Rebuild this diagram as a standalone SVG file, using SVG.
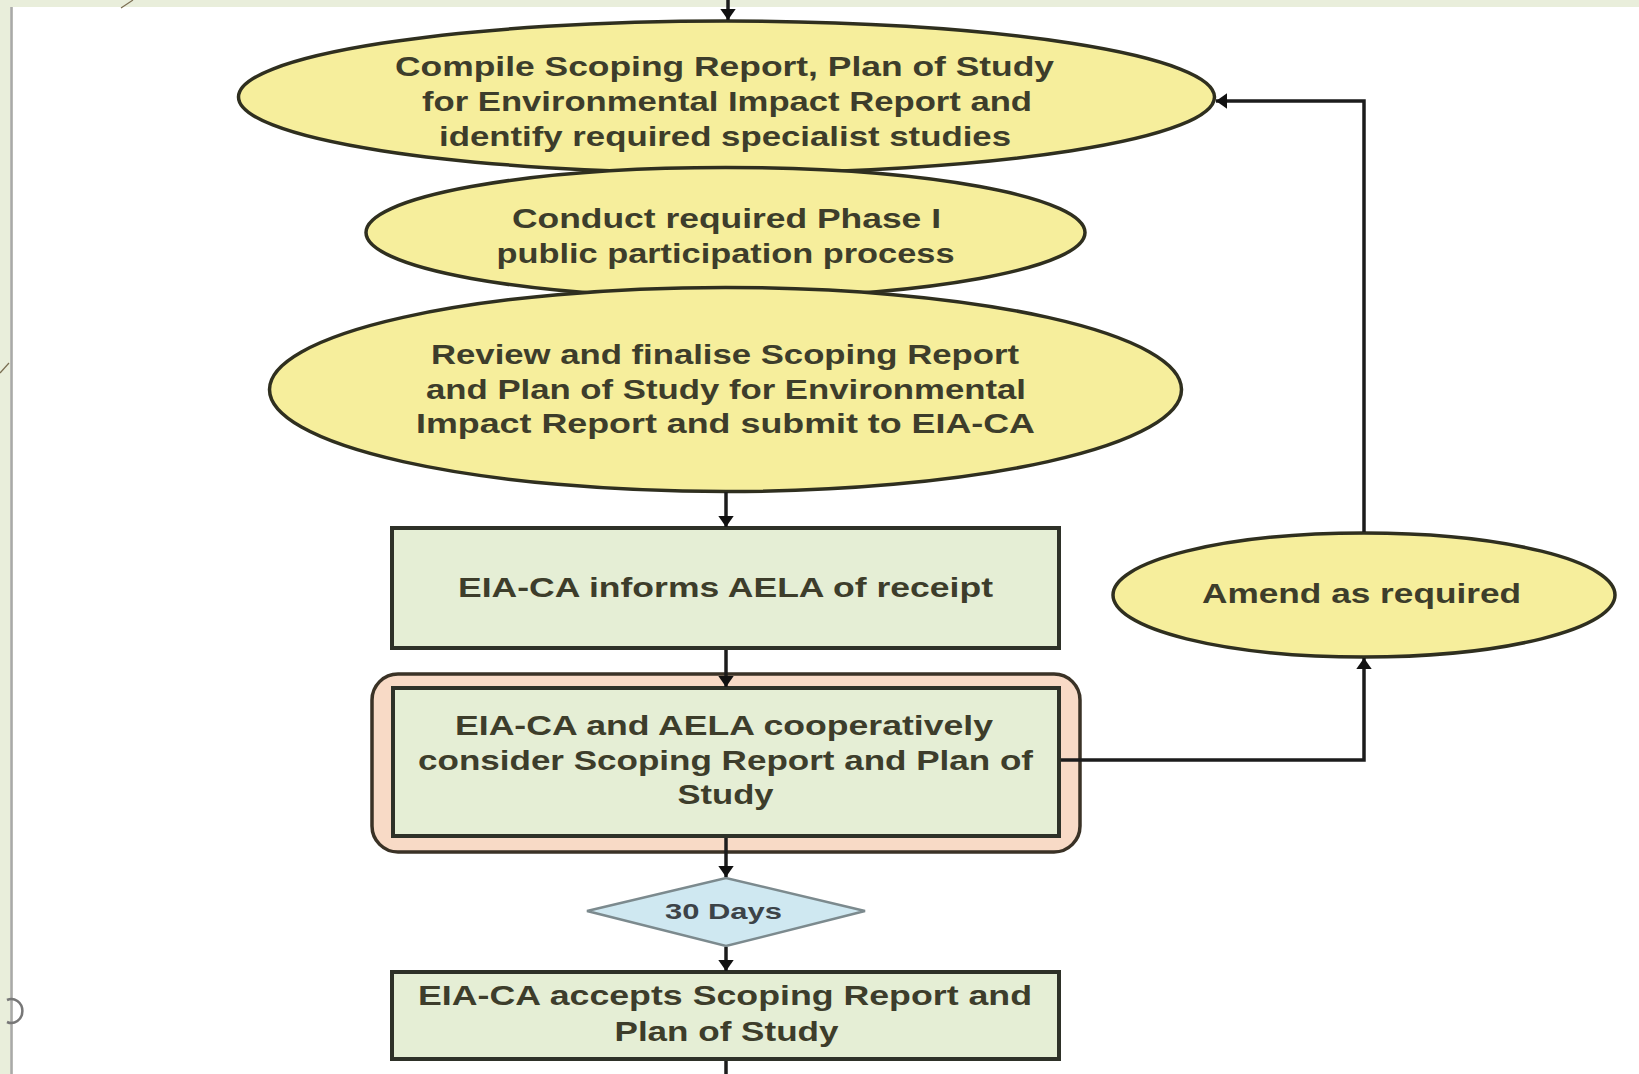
<svg xmlns="http://www.w3.org/2000/svg" width="1639" height="1074" viewBox="0 0 1639 1074">
<defs>
<style>
.ell{fill:#f6ee9c;stroke:#2f2f1f;stroke-width:3.5}
.box{fill:#e5eed5;stroke:#2e3128;stroke-width:4}
.t{font-family:"Liberation Sans",Arial,sans-serif;font-weight:bold;font-size:28px;fill:#3d3d2b;text-anchor:middle}
.con{fill:none;stroke:#1c1c1c;stroke-width:3.5}
</style>
<marker id="ah" viewBox="0 0 10 14" refX="10" refY="7" markerWidth="11" markerHeight="16" markerUnits="userSpaceOnUse" orient="auto">
<path d="M0,0 L10,7 L0,14 z" fill="#111"/>
</marker>
</defs>
<rect x="0" y="0" width="1639" height="1074" fill="#e9eedb"/>
<rect x="13" y="7" width="1626" height="1067" fill="#ffffff"/>
<line x1="11.5" y1="7" x2="11.5" y2="1074" stroke="#a9a9a9" stroke-width="2.5"/>
<line x1="133" y1="0" x2="121" y2="8" stroke="#7a6e52" stroke-width="1.2"/>
<line x1="0" y1="373" x2="9" y2="363" stroke="#7a6e52" stroke-width="1.2"/>
<path d="M7,1000 A11,12 0 1 1 7,1022" fill="none" stroke="#777" stroke-width="2.5"/>

<g id="n1">
<ellipse class="ell" cx="726.5" cy="97" rx="488" ry="76"/>
<text class="t" x="724.5" y="76" textLength="659" lengthAdjust="spacingAndGlyphs">Compile Scoping Report, Plan of Study</text>
<text class="t" x="727" y="111" textLength="610" lengthAdjust="spacingAndGlyphs">for Environmental Impact Report and</text>
<text class="t" x="725" y="146" textLength="572" lengthAdjust="spacingAndGlyphs">identify required specialist studies</text>
</g>

<g id="n2">
<ellipse class="ell" cx="725.5" cy="232.5" rx="359.5" ry="65"/>
<text class="t" x="726.5" y="228" textLength="429" lengthAdjust="spacingAndGlyphs">Conduct required Phase I</text>
<text class="t" x="725.5" y="263" textLength="458" lengthAdjust="spacingAndGlyphs">public participation process</text>
</g>

<g id="n3">
<ellipse class="ell" cx="725.5" cy="389.5" rx="456" ry="102"/>
<text class="t" x="725" y="364" textLength="588" lengthAdjust="spacingAndGlyphs">Review and finalise Scoping Report</text>
<text class="t" x="726" y="399" textLength="600" lengthAdjust="spacingAndGlyphs">and Plan of Study for Environmental</text>
<text class="t" x="725.5" y="433" textLength="619" lengthAdjust="spacingAndGlyphs">Impact Report and submit to EIA-CA</text>
</g>

<g id="n4">
<rect class="box" x="392" y="528" width="667" height="120"/>
<text class="t" x="725.5" y="597" textLength="535" lengthAdjust="spacingAndGlyphs">EIA-CA informs AELA of receipt</text>
</g>

<g id="n5">
<rect x="372" y="674" width="708" height="178" rx="26" ry="26" fill="#f8dac6" stroke="#3a3226" stroke-width="3.5"/>
<rect class="box" x="393" y="688" width="666" height="148"/>
<text class="t" x="724" y="735" textLength="538" lengthAdjust="spacingAndGlyphs">EIA-CA and AELA cooperatively</text>
<text class="t" x="725.5" y="770" textLength="615" lengthAdjust="spacingAndGlyphs">consider Scoping Report and Plan of</text>
<text class="t" x="725.5" y="804" textLength="96" lengthAdjust="spacingAndGlyphs">Study</text>
</g>

<g id="n6">
<path d="M587,911 L726,878 L865,911 L726,946 z" fill="#cfe8f1" stroke="#7c8a8e" stroke-width="2.5"/>
<text class="t" x="723.5" y="919" style="font-size:22px;fill:#3c4348" textLength="117" lengthAdjust="spacingAndGlyphs">30 Days</text>
</g>

<g id="n7">
<rect class="box" x="392" y="972" width="667" height="87"/>
<text class="t" x="725" y="1005" textLength="614" lengthAdjust="spacingAndGlyphs">EIA-CA accepts Scoping Report and</text>
<text class="t" x="726.5" y="1041" textLength="224" lengthAdjust="spacingAndGlyphs">Plan of Study</text>
</g>

<g id="n8">
<ellipse class="ell" cx="1364" cy="595" rx="251" ry="62"/>
<text class="t" x="1361.5" y="603" textLength="319" lengthAdjust="spacingAndGlyphs">Amend as required</text>
</g>

<g id="connectors">
<path class="con" d="M728,0 L728,20" marker-end="url(#ah)"/>
<path class="con" d="M726,492 L726,527" marker-end="url(#ah)"/>
<path class="con" d="M726,650 L726,687" marker-end="url(#ah)"/>
<path class="con" d="M726,838 L726,877" marker-end="url(#ah)"/>
<path class="con" d="M726,947 L726,971" marker-end="url(#ah)"/>
<path class="con" d="M726,1061 L726,1074"/>
<path class="con" d="M1061,760 L1364,760 L1364,658" marker-end="url(#ah)"/>
<path class="con" d="M1364,532 L1364,101 L1216,101" marker-end="url(#ah)"/>
</g>
</svg>
